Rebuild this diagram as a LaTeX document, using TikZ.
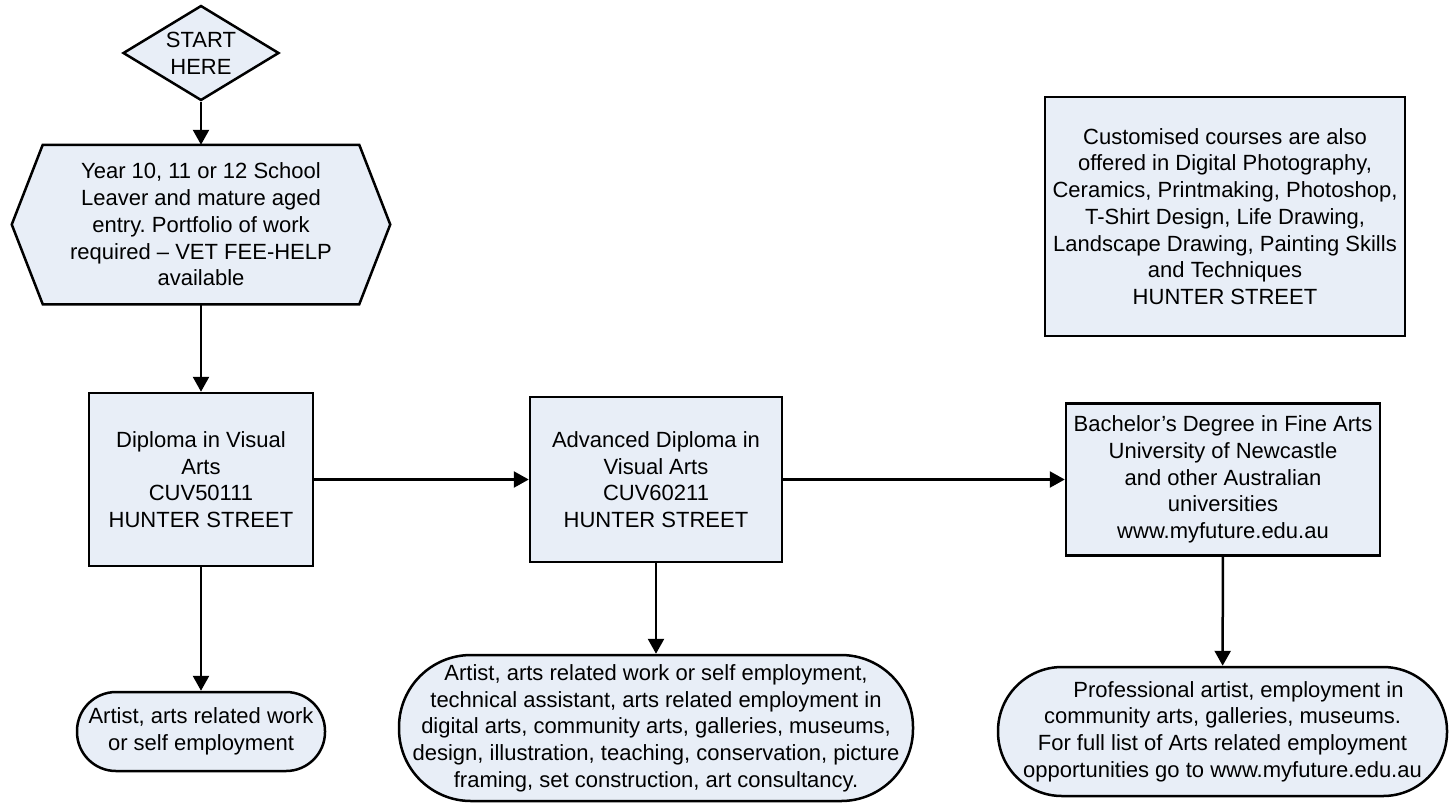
\documentclass[tikz,border=0pt]{standalone}
\usepackage{fontspec}
\setmainfont{Liberation Sans}
\frenchspacing
\usetikzlibrary{arrows.meta,shapes.geometric,backgrounds}
\definecolor{boxfill}{RGB}{232,238,247}

\tikzset{
  box/.style={draw,fill=boxfill,line width=1.25pt,align=center,inner sep=0pt,
    font=\fontsize{11}{13.35}\selectfont},
  stepbox/.style={box,rectangle,minimum width=#1},
  endbox/.style={box,rectangle,rounded corners=#1},
  decide/.style={box,diamond,aspect=1.64,minimum width=78pt,minimum height=47.5pt},
  flow/.style={-{Triangle[length=7.5pt,width=8pt]},line width=1.25pt}
}

\begin{document}
\begin{tikzpicture}[x=0.5pt,y=-0.5pt]
\useasboundingbox (0,0) rectangle (1454,804);

% start and entry
\node[decide] (start) at (201,53) {START\\HERE};
\node[box,draw=none,fill=none,minimum width=157pt,minimum height=78.5pt] (entry) at (201,224.5)
  {Year 10, 11 or 12 School\\Leaver and mature aged\\entry. Portfolio of work\\required -- VET FEE-HELP\\available};
\begin{scope}[on background layer]
\draw[fill=boxfill,line width=1.25pt] (entry.north west) -- (entry.north east) -- ([xshift=15.5pt]entry.east)
  -- (entry.south east) -- (entry.south west) -- ([xshift=-15.5pt]entry.west) -- cycle;
\end{scope}

% courses
\node[stepbox=112pt,minimum height=86.5pt] (dva) at (201,479.5)
  {Diploma in Visual\\Arts\\CUV50111\\HUNTER STREET};
\node[stepbox=126pt,minimum height=82.5pt] (adva) at (656,479.5)
  {Advanced Diploma in\\Visual Arts\\CUV60211\\HUNTER STREET};
\node[stepbox=157pt,minimum height=76pt] (bfa) at (1223,479.5)
  {Bachelor’s Degree in Fine Arts\\University of Newcastle\\and other Australian\\universities\\www.myfuture.edu.au};
\node[stepbox=180pt,minimum height=119.5pt] (custom) at (1225,216.5)
  {Customised courses are also\\offered in Digital Photography,\\Ceramics, Printmaking, Photoshop,\\T-Shirt Design, Life Drawing,\\Landscape Drawing, Painting Skills\\and Techniques\\HUNTER STREET};

% outcomes
\node[endbox=19.5pt,minimum width=124pt,minimum height=39.5pt] (jobdva) at (201,731.5)
  {Artist, arts related work\\or self employment};
\node[endbox=36pt,minimum width=257pt,minimum height=73pt] (jobadva) at (656,728)
  {Artist, arts related work or self employment,\\technical assistant, arts related employment in\\digital arts, community arts, galleries, museums,\\design, illustration, teaching, conservation, picture\\framing, set construction, art consultancy.};
\node[endbox=32pt,minimum width=224.5pt,minimum height=64.5pt] (jobbfa) at (1222.5,731.5)
  {\hspace*{16pt}Professional artist, employment in\\community arts, galleries, museums.\\For full list of Arts related employment\\opportunities go to www.myfuture.edu.au};

\draw[flow] (start) -- (entry);
\draw[flow] (entry) -- (dva);
\draw[flow] (dva) -- (adva);
\draw[flow] (adva) -- (bfa);
\draw[flow] (dva) -- (jobdva);
\draw[flow] (adva) -- (jobadva);
\draw[flow] (bfa) -- (jobbfa);
\end{tikzpicture}
\end{document}
